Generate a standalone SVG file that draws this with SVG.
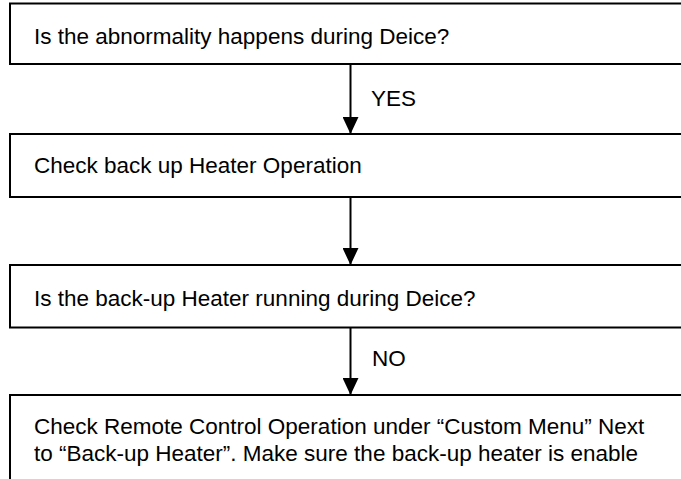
<svg xmlns="http://www.w3.org/2000/svg" width="681" height="479" viewBox="0 0 681 479">
<style>
.box{fill:#fff;stroke:#000;stroke-width:2}
.t{font-family:"Liberation Sans",Arial,sans-serif;font-size:22.5px;fill:#000}
.c{stroke:#000;stroke-width:2;fill:none}
</style>
<defs>
<marker id="ah" markerUnits="userSpaceOnUse" markerWidth="17" markerHeight="16" refX="17" refY="8" orient="auto" viewBox="0 0 17 16">
<path d="M0,0 L17,8 L0,16 z" fill="#000"/>
</marker>
</defs>
<rect width="681" height="479" fill="#fff"/>
<g id="n1">
<rect class="box" x="10" y="3.5" width="700" height="60.5"/>
<text class="t" x="34" y="43.5">Is the abnormality happens during Deice?</text>
</g>
<g id="n2">
<rect class="box" x="10" y="134" width="700" height="63"/>
<text class="t" x="34" y="173">Check back up Heater Operation</text>
</g>
<g id="n3">
<rect class="box" x="10" y="265" width="700" height="62.5"/>
<text class="t" x="34" y="305.5">Is the back-up Heater running during Deice?</text>
</g>
<g id="n4">
<rect class="box" x="10" y="395" width="700" height="100"/>
<text class="t" x="34" y="434">Check Remote Control Operation under “Custom Menu” Next</text>
<text class="t" x="34" y="461">to “Back-up Heater”. Make sure the back-up heater is enable</text>
</g>
<g id="connectors">
<line class="c" x1="350.5" y1="64" x2="350.5" y2="134" marker-end="url(#ah)"/>
<text class="t" x="371" y="105.5">YES</text>
<line class="c" x1="350.5" y1="197" x2="350.5" y2="265" marker-end="url(#ah)"/>
<line class="c" x1="350.5" y1="327.5" x2="350.5" y2="395" marker-end="url(#ah)"/>
<text class="t" x="372" y="365.5">NO</text>
</g>
</svg>
